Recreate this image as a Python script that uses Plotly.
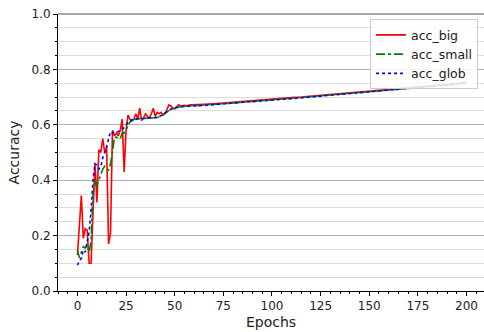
import plotly.graph_objects as go

# Epoch axis: every epoch during warm-up, then every 5th epoch
epochs = list(range(0, 60)) + list(range(60, 201, 5))

acc_big = [
    0.13, 0.26, 0.345, 0.19, 0.225, 0.22, 0.10, 0.10, 0.30, 0.46,
    0.32, 0.51, 0.50, 0.55, 0.50, 0.52, 0.17, 0.21, 0.58, 0.56,
    0.57, 0.56, 0.58, 0.62, 0.43, 0.58, 0.635, 0.62, 0.615, 0.62,
    0.64, 0.62, 0.66, 0.615, 0.625, 0.64, 0.63, 0.625, 0.64, 0.66,
    0.63, 0.645, 0.64, 0.645, 0.635, 0.64, 0.655, 0.672, 0.668, 0.66,
    0.658, 0.665, 0.672, 0.668, 0.67, 0.67, 0.669, 0.671, 0.672, 0.672,
    0.672, 0.674, 0.676, 0.679, 0.681, 0.684, 0.687, 0.690, 0.692, 0.695,
    0.698, 0.700, 0.703, 0.706, 0.709, 0.712, 0.715, 0.718, 0.721, 0.724,
    0.727, 0.730, 0.733, 0.736, 0.739, 0.742, 0.745, 0.749, 0.754,
]

acc_small = [
    0.147, 0.12, 0.14, 0.16, 0.155, 0.17, 0.14, 0.18, 0.35, 0.40,
    0.38, 0.40, 0.42, 0.44, 0.45, 0.44, 0.436, 0.46, 0.50, 0.555,
    0.556, 0.55, 0.55, 0.57, 0.57, 0.58, 0.60, 0.61, 0.615, 0.62,
    0.62, 0.623, 0.622, 0.625, 0.623, 0.624, 0.623, 0.624, 0.625, 0.625,
    0.624, 0.626, 0.628, 0.632, 0.637, 0.642, 0.648, 0.652, 0.656, 0.659,
    0.661, 0.663, 0.665, 0.665, 0.666, 0.667, 0.667, 0.668, 0.668, 0.669,
    0.669, 0.671, 0.673, 0.676, 0.678, 0.681, 0.684, 0.687, 0.689, 0.692,
    0.695, 0.697, 0.700, 0.703, 0.706, 0.709, 0.712, 0.715, 0.718, 0.721,
    0.724, 0.727, 0.730, 0.733, 0.736, 0.739, 0.742, 0.746, 0.751,
]

acc_glob = [
    0.093, 0.11, 0.118, 0.147, 0.14, 0.177, 0.213, 0.29, 0.40, 0.46,
    0.455, 0.44, 0.45, 0.48, 0.50, 0.52, 0.55, 0.575, 0.57, 0.575,
    0.572, 0.575, 0.58, 0.585, 0.59, 0.60, 0.61, 0.612, 0.618, 0.62,
    0.62, 0.621, 0.622, 0.622, 0.623, 0.623, 0.624, 0.624, 0.625, 0.625,
    0.626, 0.627, 0.629, 0.633, 0.638, 0.643, 0.648, 0.652, 0.656, 0.659,
    0.661, 0.663, 0.664, 0.665, 0.666, 0.666, 0.667, 0.667, 0.668, 0.668,
    0.668, 0.670, 0.673, 0.675, 0.678, 0.681, 0.683, 0.686, 0.689, 0.692,
    0.694, 0.697, 0.700, 0.703, 0.706, 0.709, 0.712, 0.715, 0.718, 0.721,
    0.724, 0.727, 0.730, 0.733, 0.736, 0.739, 0.742, 0.746, 0.750,
]

x_ticks = [0, 25, 50, 75, 100, 125, 150, 175, 200]
y_ticks = [0.0, 0.2, 0.4, 0.6, 0.8, 1.0]

FONT = "DejaVu Sans"

fig = go.Figure()
fig.add_trace(go.Scatter(x=epochs, y=acc_big, name="acc_big", mode="lines",
                         line=dict(color="#ff0000", width=1.6)))
fig.add_trace(go.Scatter(x=epochs, y=acc_small, name="acc_small", mode="lines",
                         line=dict(color="#008000", width=1.6, dash="dashdot")))
fig.add_trace(go.Scatter(x=epochs, y=acc_glob, name="acc_glob", mode="lines",
                         line=dict(color="#0000ff", width=1.6, dash="dot")))

fig.update_layout(
    width=484, height=332,
    margin=dict(l=58, r=0, t=14, b=41),
    paper_bgcolor="white", plot_bgcolor="white",
    font=dict(family=FONT, size=12, color="#222222"),
    showlegend=True,
    legend=dict(x=0.986, y=0.981, xanchor="right", yanchor="top",
                bgcolor="rgba(255,255,255,0.85)", bordercolor="#cccccc",
                borderwidth=1, font=dict(family=FONT, size=12.5, color="#222222"),
                tracegroupgap=2),
    xaxis=dict(
        range=[-10, 209], tickmode="array", tickvals=x_ticks,
        showgrid=False, zeroline=False,
        showline=True, linecolor="black", linewidth=1,
        ticks="outside", ticklen=4, tickcolor="black",
        minor=dict(dtick=5, tick0=0, ticks="outside", ticklen=2, tickcolor="black"),
        title=dict(text="Epochs", standoff=4),
    ),
    yaxis=dict(
        range=[0, 1], tickmode="array", tickvals=y_ticks, tickformat=".1f",
        showgrid=True, gridcolor="#b0b0b0", gridwidth=1,
        zeroline=False,
        showline=True, linecolor="black", linewidth=1,
        ticks="outside", ticklen=4, tickcolor="black",
        minor=dict(dtick=0.05, tick0=0, ticks="outside", ticklen=2,
                   tickcolor="black", showgrid=True, gridcolor="#dedede", gridwidth=1),
        title=dict(text="Accuracy", standoff=8),
    ),
)

# Frame line along the top edge of the plotting area
fig.add_shape(type="line", xref="paper", yref="paper", x0=0, x1=1, y0=1, y1=1,
              line=dict(color="#555555", width=1.2))

fig.write_html("out.html")
